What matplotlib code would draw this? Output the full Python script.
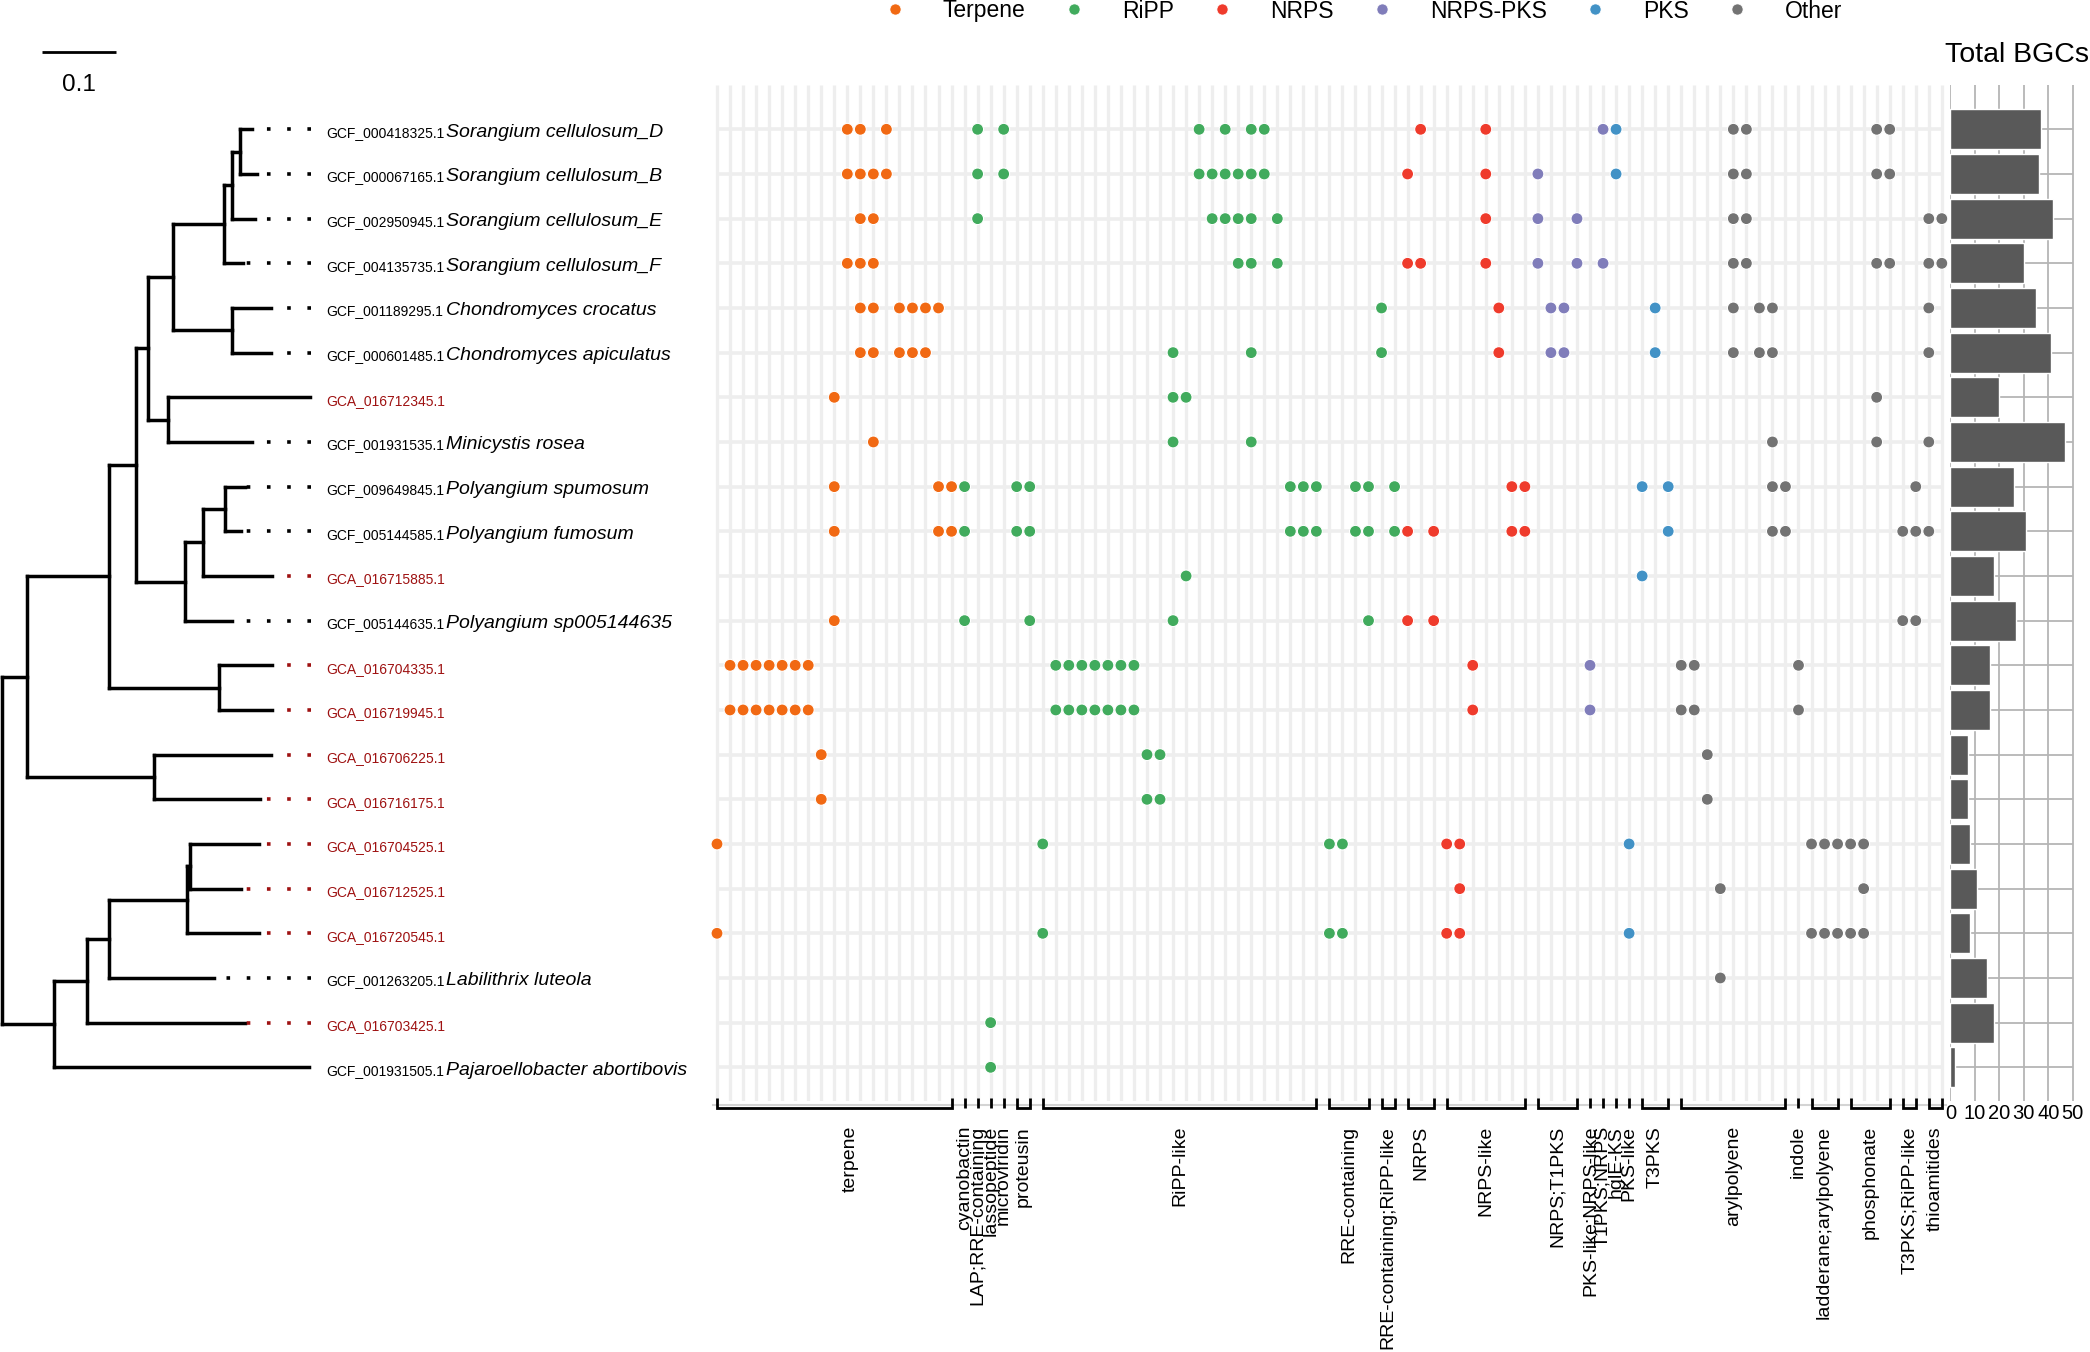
import matplotlib
matplotlib.use("Agg")
import matplotlib.pyplot as plt
from matplotlib.lines import Line2D
from matplotlib.collections import LineCollection
import numpy as np

plt.rcParams['font.family'] = ['Liberation Sans', 'DejaVu Sans']

# ---------------- data ----------------
def T(name, bl):
    return (name, bl)

def N(bl, *kids):
    return (list(kids), bl)

# phylogeny (branch lengths in substitutions/site)
tree = N(0.0,
  N(0.0334,
    N(0.1121,
      N(0.0364,
        N(0.0163,
          N(0.0339,
            N(0.0691,
              N(0.0109,
                N(0.0110, T("GCF_000418325.1", 0.0163), T("GCF_000067165.1", 0.0224)),
                T("GCF_002950945.1", 0.0303)),
              T("GCF_004135735.1", 0.0261)),
            N(0.0799, T("GCF_001189295.1", 0.0533), T("GCF_000601485.1", 0.0533))),
          N(0.0261, T("GCA_016712345.1", 0.1927), T("GCF_001931535.1", 0.1151))),
        N(0.0666,
          N(0.0242,
            N(0.0290, T("GCF_009649845.1", 0.0273), T("GCF_005144585.1", 0.0224)),
            T("GCA_016715885.1", 0.0939)),
          T("GCF_005144635.1", 0.0634))),
      N(0.1483, T("GCA_016704335.1", 0.0727), T("GCA_016719945.1", 0.0727))),
    N(0.1726, T("GCA_016706225.1", 0.1593), T("GCA_016716175.1", 0.1438))),
  N(0.0697,
    N(0.0453,
      N(0.0304,
        N(0.1047,
          N(0.0042, T("GCA_016704525.1", 0.0940), T("GCA_016712525.1", 0.0696)),
          T("GCA_016720545.1", 0.0982)),
        T("GCF_001263205.1", 0.1419)),
      T("GCA_016703425.1", 0.2138)),
    T("GCF_001931505.1", 0.3471)))

species = ["Sorangium cellulosum_D", "Sorangium cellulosum_B", "Sorangium cellulosum_E",
           "Sorangium cellulosum_F", "Chondromyces crocatus", "Chondromyces apiculatus",
           "", "Minicystis rosea", "Polyangium spumosum", "Polyangium fumosum", "",
           "Polyangium sp005144635", "", "", "", "", "", "", "", "Labilithrix luteola",
           "", "Pajaroellobacter abortibovis"]

total_bgcs = [37, 36, 42, 30, 35, 41, 20, 47, 26, 31, 18, 27, 16, 16, 7, 7, 8, 11, 8, 15, 18, 2]

group_names = ["terpene", "cyanobactin", "LAP;RRE-containing", "lassopeptide", "microviridin",
               "proteusin", "RiPP-like", "RRE-containing", "RRE-containing;RiPP-like", "NRPS",
               "NRPS-like", "NRPS;T1PKS", "PKS-like;NRPS-like", "T1PKS;NRPS", "hglE-KS",
               "PKS-like", "T3PKS", "arylpolyene", "indole", "ladderane;arylpolyene",
               "phosphonate", "T3PKS;RiPP-like", "thioamitides"]
group_sizes = [19, 1, 1, 1, 1, 2, 22, 4, 2, 3, 7, 4, 1, 1, 1, 1, 3, 9, 1, 3, 4, 2, 2]
group_class = ["Terpene", "RiPP", "RiPP", "RiPP", "RiPP", "RiPP", "RiPP", "RiPP", "RiPP",
               "NRPS", "NRPS", "NRPS-PKS", "NRPS-PKS", "NRPS-PKS", "PKS", "PKS", "PKS",
               "Other", "Other", "Other", "Other", "Other", "Other"]

class_names = ["Terpene", "RiPP", "NRPS", "NRPS-PKS", "PKS", "Other"]
class_colors = ["#F16913", "#41AB5D", "#EF3B2C", "#807DBA", "#4292C6", "#737373"]

# occupied BGC columns per genome (rows follow tree tip order)
bgc_columns = [
    [10, 11, 13, 20, 22, 37, 39, 41, 42, 54, 59, 68, 69, 78, 79, 89, 90],
    [10, 11, 12, 13, 20, 22, 37, 38, 39, 40, 41, 42, 53, 59, 63, 69, 78, 79, 89, 90],
    [11, 12, 20, 38, 39, 40, 41, 43, 59, 63, 66, 78, 79, 93, 94],
    [10, 11, 12, 40, 41, 43, 53, 54, 59, 63, 66, 68, 78, 79, 89, 90, 93, 94],
    [11, 12, 14, 15, 16, 17, 51, 60, 64, 65, 72, 78, 80, 81, 93],
    [11, 12, 14, 15, 16, 35, 41, 51, 60, 64, 65, 72, 78, 80, 81, 93],
    [9, 35, 36, 89],
    [12, 35, 41, 81, 89, 93],
    [9, 17, 18, 19, 23, 24, 44, 45, 46, 49, 50, 52, 61, 62, 71, 73, 81, 82, 92],
    [9, 17, 18, 19, 23, 24, 44, 45, 46, 49, 50, 52, 53, 55, 61, 62, 73, 81, 82, 91, 92, 93],
    [36, 71],
    [9, 19, 24, 35, 50, 53, 55, 91, 92],
    [1, 2, 3, 4, 5, 6, 7, 26, 27, 28, 29, 30, 31, 32, 58, 67, 74, 75, 83],
    [1, 2, 3, 4, 5, 6, 7, 26, 27, 28, 29, 30, 31, 32, 58, 67, 74, 75, 83],
    [8, 33, 34, 76],
    [8, 33, 34, 76],
    [0, 25, 47, 48, 56, 57, 70, 84, 85, 86, 87, 88],
    [57, 77, 88],
    [0, 25, 47, 48, 56, 57, 70, 84, 85, 86, 87, 88],
    [77],
    [21],
    [21],
]

# ---------------- layout ----------------
W, H = 2090, 1352
fig = plt.figure(figsize=(W / 100, H / 100), dpi=100)

def fx(px):
    return px / W

def fy(py):
    return 1 - py / H

ROW0, DY = 129.3, 44.667
YTOP, YBOT = -1.0, 21.75
top_px = ROW0 + YTOP * DY
bot_px = ROW0 + YBOT * DY
ax_b = fy(bot_px)
ax_h = (bot_px - top_px) / H

def row_of(py):
    return (py - ROW0) / DY

# ---------------- tree ----------------
PXU = 737.0
ROOT_PX = 2.2
ax_tree = fig.add_axes([0, ax_b, fx(708), ax_h])
ax_tree.set_xlim(-ROOT_PX / PXU, (708 - ROOT_PX) / PXU)
ax_tree.set_ylim(YBOT, YTOP)
ax_tree.axis('off')

tip_order, tip_x, segs = [], {}, []

def place(node, parent_x):
    name, bl = node
    x = parent_x + bl
    if isinstance(name, str):
        y = len(tip_order)
        tip_order.append(name)
        tip_x[name] = x
    else:
        ys = [place(k, x) for k in name]
        y = (ys[0] + ys[-1]) / 2
        segs.append([(x, ys[0]), (x, ys[-1])])
    if bl > 0:
        segs.append([(parent_x, y), (x, y)])
    return y

place(tree, 0.0)
ax_tree.add_collection(LineCollection(segs, colors='black', linewidths=2.5,
                                      capstyle='projecting'))

dot_end = (311 - ROOT_PX) / PXU
acc_x = (325.9 - ROOT_PX) / PXU
sp_x = (446.4 - ROOT_PX) / PXU
for i, acc in enumerate(tip_order):
    col = '#9e1111' if acc.startswith('GCA') else 'black'
    if tip_x[acc] < dot_end - 0.004:
        ax_tree.plot([dot_end, tip_x[acc]], [i, i], color=col, lw=2.6,
                     ls=(0, (1, 4.6)), dash_capstyle='butt', zorder=3)
    ax_tree.text(acc_x, i + 0.165, acc, fontsize=10, color=col, va='baseline', ha='left')
    if species[i]:
        ax_tree.text(sp_x, i + 0.165, species[i], fontsize=14, style='italic',
                     va='baseline', ha='left')

# scale bar
sb_x0 = (42.4 - ROOT_PX) / PXU
ax_tree.plot([sb_x0, sb_x0 + 0.1], [row_of(51.7)] * 2, color='black', lw=2,
             solid_capstyle='butt', clip_on=False)
ax_tree.text(sb_x0 + 0.05, row_of(85), "0.1", fontsize=17.5, ha='center', va='center')

# ---------------- dot matrix ----------------
COL0, DX = 717.0, 13.03
ncol = sum(group_sizes)
ax_dot = fig.add_axes([fx(COL0 - 0.5 * DX), ax_b, fx(ncol * DX), ax_h])
ax_dot.set_xlim(-0.5, ncol - 0.5)
ax_dot.set_ylim(YBOT, YTOP)
ax_dot.axis('off')

ax_dot.vlines(np.arange(ncol), YTOP, YBOT, color='#eeeeee', lw=2.4, zorder=1)
ax_dot.hlines(np.arange(len(tip_order)), 0, ncol - 1, color='#eeeeee', lw=2.6, zorder=1)

col_class = np.repeat(group_class, group_sizes)
cmap = dict(zip(class_names, class_colors))
xs, ys, cs = [], [], []
for r, cols in enumerate(bgc_columns):
    for c in cols:
        xs.append(c)
        ys.append(r)
        cs.append(cmap[col_class[c]])
ax_dot.scatter(xs, ys, s=74, c=cs, edgecolors='white', linewidths=0.8, zorder=3)

# brackets and group labels
label_shift = {"terpene": 1.2}
yb, yt = row_of(1108), row_of(1098)
ax_dot.plot([-0.3, ncol - 0.7], [row_of(1104.5)] * 2, color='#d4d4d4', lw=1.5,
            clip_on=False, zorder=1)
starts = np.concatenate([[0], np.cumsum(group_sizes)[:-1]])
for name, s, n in zip(group_names, starts, group_sizes):
    e = s + n - 1
    if n == 1:
        ax_dot.plot([s, s], [yt, yb], color='black', lw=2, clip_on=False,
                    solid_capstyle='butt')
    else:
        ax_dot.plot([s, s, e, e], [yt, yb, yb, yt], color='black', lw=2,
                    clip_on=False, solid_joinstyle='miter', solid_capstyle='butt')
    ax_dot.text((s + e) / 2 + label_shift.get(name, 0), row_of(1126), name,
                rotation=90, ha='center', va='top', fontsize=14)

# ---------------- total BGC bars ----------------
BX0, BPX = 1950.4, 2.448
ax_bar = fig.add_axes([fx(BX0 - 0.3 * BPX), ax_b, fx(50.6 * BPX), ax_h])
ax_bar.set_xlim(-0.3, 50.3)
ax_bar.set_ylim(YBOT, YTOP)
ax_bar.set_facecolor('none')
for sp in ax_bar.spines.values():
    sp.set_visible(False)
ticks = [0, 10, 20, 30, 40, 50]
ax_bar.vlines(ticks, YTOP, YBOT, color='#b5b5b5', lw=1.3, zorder=1)
ax_bar.hlines(np.arange(len(total_bgcs)), 0, 50, color='#b5b5b5', lw=1.3, zorder=1)
ax_bar.barh(np.arange(len(total_bgcs)), total_bgcs, height=0.9, color='#595959',
            edgecolor='white', linewidth=1, zorder=3)
ax_bar.set_xticks(ticks)
ax_bar.set_xticklabels([str(t) for t in ticks], fontsize=14.5)
ax_bar.set_yticks([])
ax_bar.tick_params(axis='x', length=0, pad=2)

fig.text(fx(2089), fy(61.7), "Total BGCs", ha='right', va='baseline', fontsize=20.5)

# ---------------- legend ----------------
handles = [Line2D([], [], ls='', marker='o', markersize=8, markerfacecolor=c,
                  markeredgecolor='white', markeredgewidth=0.5) for c in class_colors]
fig.legend(handles, class_names, loc='center', bbox_to_anchor=(fx(1357), fy(11)),
           ncol=6, frameon=False, fontsize=16.5, handlelength=2, handletextpad=1.1,
           columnspacing=1.1, borderpad=0, borderaxespad=0)

fig.savefig("out.png", dpi=100)
